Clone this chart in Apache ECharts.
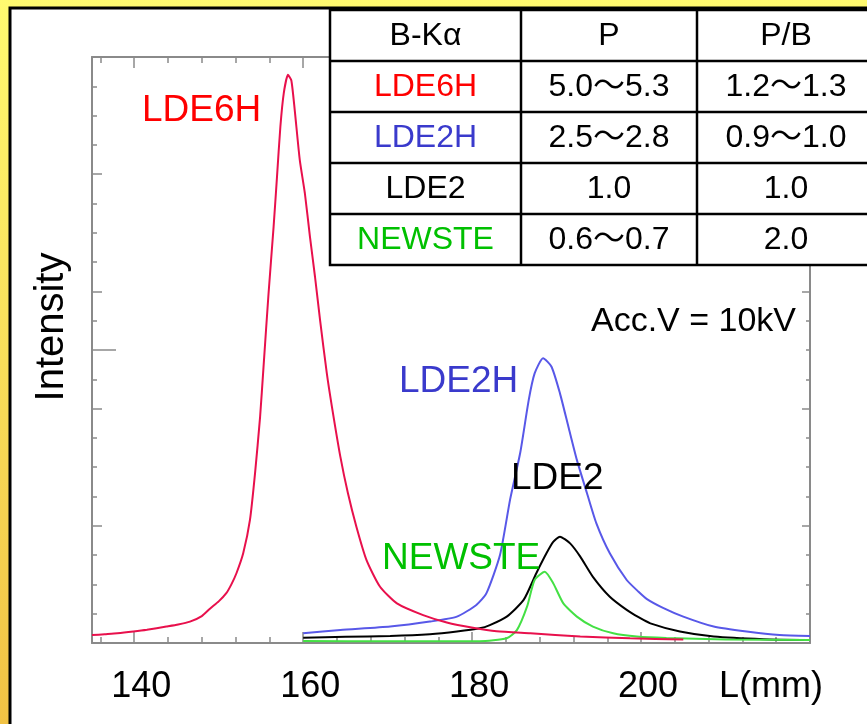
<!DOCTYPE html>
<html>
<head>
<meta charset="utf-8">
<script src="https://cdn.jsdelivr.net/npm/echarts@6/dist/echarts.min.js"></script>
<style>
  html, body { margin: 0; padding: 0; }
  #chart { width: 867px; height: 724px; }
</style>
</head>
<body>
<div id="chart"></div>
<script>
// peak traces (L in mm, intensity in axis units 0..20)
const lde6hX = [135.0, 136.5, 138.0, 139.9, 141.5, 143.8, 145.2, 146.6, 148.0, 149.0, 150.0, 150.9, 151.5, 152.1, 152.9, 153.7, 154.3, 154.9, 155.3, 155.9, 156.5, 156.9, 157.3, 157.7, 158.2, 158.6, 159.0, 159.6, 160.2, 160.8, 161.4, 162.0, 162.8, 163.4, 164.4, 165.3, 166.3, 167.5, 169.1, 171.1, 174.2, 177.0, 180.1, 182.9, 186.9, 192.8, 198.7, 205.0]
const lde6hY = [0.27, 0.30, 0.33, 0.39, 0.45, 0.56, 0.63, 0.73, 0.92, 1.18, 1.42, 1.70, 2.00, 2.38, 3.06, 4.20, 5.79, 7.72, 9.40, 11.93, 14.21, 15.91, 17.62, 18.76, 19.39, 19.20, 18.19, 16.48, 15.35, 13.87, 12.50, 11.02, 9.20, 8.07, 6.36, 5.11, 3.97, 2.83, 1.92, 1.35, 0.95, 0.70, 0.52, 0.40, 0.33, 0.22, 0.16, 0.12]

const lde2hX = [160.0, 164.4, 170.3, 175.0, 178.2, 180.5, 181.7, 183.3, 184.5, 185.7, 186.7, 187.4, 188.4, 189.4, 190.4, 191.4, 192.4, 193.6, 194.7, 196.3, 198.3, 199.7, 200.7, 202.6, 205.0, 208.6, 212.5, 216.4, 220.0]
const lde2hY = [0.33, 0.44, 0.56, 0.73, 0.90, 1.30, 1.70, 3.00, 4.90, 6.50, 8.29, 9.20, 9.72, 9.43, 8.52, 7.38, 6.25, 5.11, 4.09, 3.06, 2.15, 1.75, 1.50, 1.20, 0.90, 0.56, 0.39, 0.27, 0.24]

const lde2X = [160.0, 165.0, 170.3, 175.0, 178.2, 180.9, 182.1, 184.1, 186.1, 187.6, 188.8, 189.6, 190.4, 191.6, 192.8, 194.3, 196.3, 198.3, 199.7, 201.1, 204.6, 208.6, 214.5, 220.0]
const lde2Y = [0.18, 0.21, 0.24, 0.30, 0.39, 0.50, 0.61, 0.90, 1.47, 2.38, 3.06, 3.45, 3.63, 3.40, 2.95, 2.26, 1.58, 1.13, 0.88, 0.67, 0.39, 0.22, 0.13, 0.10]

const newsteX = [160.0, 170.0, 180.9, 184.1, 185.3, 186.5, 187.4, 188.6, 189.6, 190.8, 192.4, 194.3, 196.7, 199.5, 203.0, 210.0, 220.0]
const newsteY = [0.07, 0.06, 0.06, 0.16, 0.44, 1.24, 2.15, 2.43, 2.04, 1.35, 0.90, 0.56, 0.33, 0.22, 0.17, 0.12, 0.10]

// axis ticks
const xLabels = [140, 160, 180, 200]
const xMinorTicks = [136, 144, 148, 152, 156, 164, 168, 172, 176, 184, 188, 192, 196, 204, 208, 212, 216]
const yMidTicks = [4, 8, 12, 16]
const yLongTicks = [10]

// table
const tableHead = ['B-Kα', 'P', 'P/B']
const tableNames = ['LDE6H', 'LDE2H', 'LDE2', 'NEWSTE']
const tableP = ['5.0～5.3', '2.5～2.8', '1.0', '0.6～0.7']
const tablePB = ['1.2～1.3', '0.9～1.0', '1.0', '2.0']
const nameColors = ['#ff0000', '#3a3acc', '#000000', '#00c000']

const FONT = '"Liberation Sans", Arial, "Noto Sans CJK JP", sans-serif'
const axisGray = '#8a8a8a'

const pairs = (xs, ys) => xs.map((x, i) => [x, ys[i]])

const chart = echarts.init(document.getElementById('chart'))

// table graphic
const colX = [330, 521, 697, 875]
const rowY = [10, 61, 112, 163, 214, 265]
const tableEls = []
tableEls.push({
  type: 'rect', z: 100,
  shape: { x: colX[0], y: rowY[0], width: colX[3] - colX[0], height: rowY[5] - rowY[0] },
  style: { fill: '#fff', stroke: '#000', lineWidth: 2.5 }
})
rowY.slice(1, 5).forEach(y => {
  tableEls.push({ type: 'line', z: 101, shape: { x1: colX[0], y1: y, x2: colX[3], y2: y }, style: { stroke: '#000', lineWidth: 2.5 } })
})
colX.slice(1, 3).forEach(x => {
  tableEls.push({ type: 'line', z: 101, shape: { x1: x, y1: rowY[0], x2: x, y2: rowY[5] }, style: { stroke: '#000', lineWidth: 2.5 } })
})
const cellText = (col, row, text, color) => ({
  type: 'text', z: 102,
  x: (colX[col] + colX[col + 1]) / 2,
  y: (rowY[row] + rowY[row + 1]) / 2 + 1,
  style: { text: text, fill: color, font: '32px ' + FONT, align: 'center', verticalAlign: 'middle' }
})
tableHead.forEach((t, c) => tableEls.push(cellText(c, 0, t, '#000')))
tableNames.forEach((n, r) => {
  tableEls.push(cellText(0, r + 1, n, nameColors[r]))
  tableEls.push(cellText(1, r + 1, tableP[r], '#000'))
  tableEls.push(cellText(2, r + 1, tablePB[r], '#000'))
})

const label = (text, x, y, color, size) => ({
  type: 'text', z: 50, x: x, y: y,
  style: { text: text, fill: color, font: size + 'px ' + FONT, verticalAlign: 'middle' }
})

const xBase = { type: 'value', min: 135, max: 220, splitLine: { show: false }, axisLine: { show: false, onZero: false }, axisLabel: { show: false } }
const yBase = { type: 'value', min: 0, max: 20, splitLine: { show: false }, axisLine: { show: false, onZero: false }, axisLabel: { show: false } }

chart.setOption({
  backgroundColor: {
    type: 'linear', x: 0, y: 0, x2: 0, y2: 1,
    colorStops: [{ offset: 0, color: '#fffa70' }, { offset: 1, color: '#f1c244' }]
  },
  animation: false,
  grid: { left: 92, right: 57, top: 57, bottom: 81 },
  xAxis: [
    {
      ...xBase, position: 'bottom',
      axisLine: { show: true, onZero: false, lineStyle: { color: axisGray, width: 2 } },
      axisTick: { inside: true, length: 6, customValues: xMinorTicks, lineStyle: { color: axisGray, width: 1.5 } },
      axisLabel: { show: true, customValues: xLabels, margin: 26, padding: [0, 0, 0, 14], color: '#000', fontSize: 36, fontFamily: FONT }
    },
    { ...xBase, position: 'bottom', axisTick: { inside: true, length: 11, customValues: xLabels, lineStyle: { color: axisGray, width: 1.5 } } },
    {
      ...xBase, position: 'top',
      axisLine: { show: true, onZero: false, lineStyle: { color: axisGray, width: 2 } },
      axisTick: { inside: true, length: 6, customValues: xMinorTicks, lineStyle: { color: axisGray, width: 1.5 } }
    },
    { ...xBase, position: 'top', axisTick: { inside: true, length: 11, customValues: xLabels, lineStyle: { color: axisGray, width: 1.5 } } }
  ],
  yAxis: [
    {
      ...yBase, position: 'left', interval: 1,
      axisLine: { show: true, onZero: false, lineStyle: { color: axisGray, width: 2 } },
      axisTick: { inside: true, length: 5, lineStyle: { color: axisGray, width: 1.5 } }
    },
    { ...yBase, position: 'left', axisTick: { inside: true, length: 10, customValues: yMidTicks, lineStyle: { color: axisGray, width: 1.5 } } },
    { ...yBase, position: 'left', axisTick: { inside: true, length: 24, customValues: yLongTicks, lineStyle: { color: axisGray, width: 1.5 } } },
    {
      ...yBase, position: 'right', interval: 1,
      axisLine: { show: true, onZero: false, lineStyle: { color: axisGray, width: 2 } },
      axisTick: { inside: true, length: 4, lineStyle: { color: axisGray, width: 1.5 } }
    },
    { ...yBase, position: 'right', axisTick: { inside: true, length: 8, customValues: yMidTicks, lineStyle: { color: axisGray, width: 1.5 } } }
  ],
  graphic: [
    {
      type: 'rect', z: -10,
      shape: { x: 10, y: 8, width: 900, height: 760 },
      style: { fill: '#fff', stroke: '#000', lineWidth: 3 }
    },
    {
      type: 'text', z: 50, x: 52, y: 327, rotation: Math.PI / 2,
      style: { text: 'Intensity', fill: '#000', font: '40px ' + FONT, align: 'center', verticalAlign: 'middle' }
    },
    label('L(mm)', 719, 687, '#000', 36),
    label('Acc.V = 10kV', 591, 322, '#000', 34),
    label('LDE6H', 142, 111, '#ff0000', 37),
    label('LDE2H', 399, 382, '#3a3acc', 37),
    label('LDE2', 511, 479, '#000000', 37),
    label('NEWSTE', 382, 559, '#00c000', 37),
    ...tableEls
  ],
  series: [
    { name: 'LDE2H', type: 'line', showSymbol: false, smooth: 0.2, data: pairs(lde2hX, lde2hY), lineStyle: { color: '#5858e8', width: 2 } },
    { name: 'LDE2', type: 'line', showSymbol: false, smooth: 0.2, data: pairs(lde2X, lde2Y), lineStyle: { color: '#000', width: 2 } },
    { name: 'NEWSTE', type: 'line', showSymbol: false, smooth: 0.2, data: pairs(newsteX, newsteY), lineStyle: { color: '#44e044', width: 2 } },
    { name: 'LDE6H', type: 'line', showSymbol: false, smooth: 0.2, data: pairs(lde6hX, lde6hY), lineStyle: { color: '#e8104c', width: 2 } }
  ]
})
</script>
</body>
</html>
